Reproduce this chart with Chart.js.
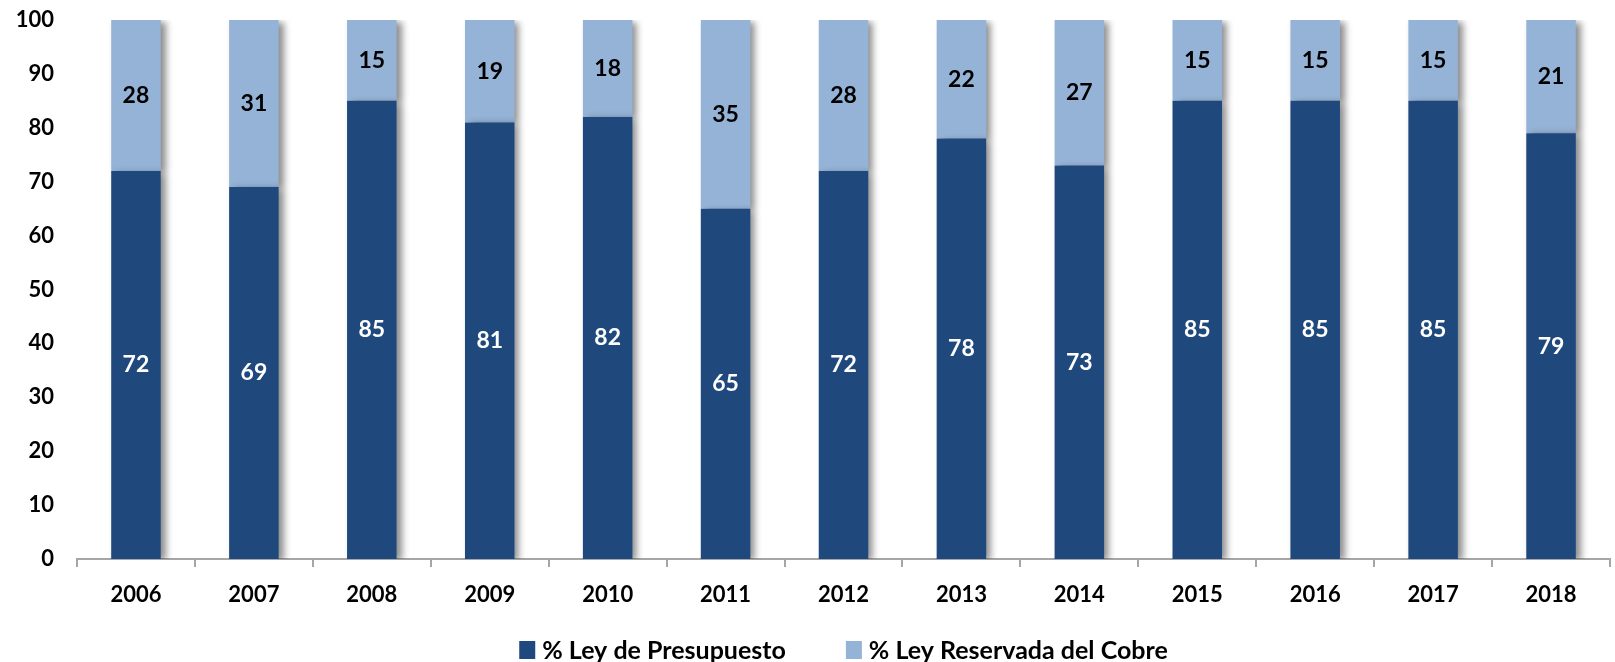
<!DOCTYPE html>
<html>
<head>
<meta charset="utf-8">
<script src="https://cdn.jsdelivr.net/npm/chart.js@4.4.1/dist/chart.umd.min.js"></script>
<style>
    html, body { margin: 0; padding: 0; background: #fff; }
    #wrap { width: 1615px; height: 662px; position: relative; }
</style>
</head>
<body>
<div id="wrap"><canvas id="chartLeyes"></canvas></div>
<script>
'use strict';

// Datos del gráfico
var anios = ['2006', '2007', '2008', '2009', '2010', '2011', '2012', '2013', '2014', '2015', '2016', '2017', '2018'];
var leyPresupuesto = [72, 69, 85, 81, 82, 65, 72, 78, 73, 85, 85, 85, 79];
var leyReservadaCobre = [28, 31, 15, 19, 18, 35, 28, 22, 27, 15, 15, 15, 21];
var ticksY = [0, 10, 20, 30, 40, 50, 60, 70, 80, 90, 100];

var COLORS = {
    dark: '#1F497D',
    light: '#95B3D7',
    axis: '#A6A6A6'
};

var FONT = 'Lato, "Open Sans", sans-serif';

// sombra gris a la derecha de cada barra
var barShadow = {
    id: 'barShadow',
    beforeDatasetsDraw: function(chart) {
        var ctx = chart.ctx;
        ctx.save();
        ctx.shadowColor = 'rgba(0,0,0,0.45)';
        ctx.shadowBlur = 7;
        ctx.shadowOffsetX = 5;
        ctx.shadowOffsetY = 2;
    },
    afterDatasetsDraw: function(chart) {
        chart.ctx.restore();
    }
};

// etiquetas de valor centradas en cada segmento
var valueLabels = {
    id: 'valueLabels',
    afterDatasetsDraw: function(chart) {
        var ctx = chart.ctx;
        ctx.save();
        ctx.font = 'bold 23px ' + FONT;
        ctx.textAlign = 'center';
        ctx.textBaseline = 'middle';
        chart.data.datasets.forEach(function(ds, i) {
            var meta = chart.getDatasetMeta(i);
            ctx.fillStyle = i === 0 ? '#FFFFFF' : '#000000';
            meta.data.forEach(function(bar, j) {
                var props = bar.getProps(['x', 'y', 'base'], true);
                var cy = (props.y + props.base) / 2;
                ctx.fillText(String(ds.data[j]), props.x, cy);
            });
        });
        ctx.restore();
    }
};

// leyenda propia, centrada bajo el área del gráfico
var bottomLegend = {
    id: 'bottomLegend',
    afterDraw: function(chart) {
        var ctx = chart.ctx;
        var area = chart.chartArea;
        var box = 16, gapText = 7, gapItem = 60;
        var y = 650;
        ctx.save();
        ctx.font = 'bold 25px ' + FONT;
        ctx.textBaseline = 'middle';
        ctx.textAlign = 'left';
        var items = chart.data.datasets.map(function(ds) {
            return { text: ds.label, color: ds.backgroundColor, w: ctx.measureText(ds.label).width };
        });
        var total = 0;
        items.forEach(function(it, k) {
            total += box + gapText + it.w + (k > 0 ? gapItem : 0);
        });
        var x = (area.left + area.right) / 2 - total / 2;
        items.forEach(function(it) {
            ctx.fillStyle = it.color;
            ctx.fillRect(x, y - 9, box, 18);
            x += box + gapText;
            ctx.fillStyle = '#000';
            ctx.fillText(it.text, x, y + 1);
            x += it.w + gapItem;
        });
        ctx.restore();
    }
};

new Chart(document.getElementById('chartLeyes'), {
    type: 'bar',
    data: {
        labels: anios,
        datasets: [
            {
                label: '% Ley de Presupuesto',
                data: leyPresupuesto,
                backgroundColor: COLORS.dark,
                barPercentage: 0.42,
                categoryPercentage: 1
            },
            {
                label: '% Ley Reservada del Cobre',
                data: leyReservadaCobre,
                backgroundColor: COLORS.light,
                barPercentage: 0.42,
                categoryPercentage: 1
            }
        ]
    },
    options: {
        responsive: true,
        maintainAspectRatio: false,
        animation: false,
        layout: { padding: { left: 0, right: 5, top: 20, bottom: 53 } },
        plugins: {
            legend: { display: false },
            tooltip: { enabled: false }
        },
        scales: {
            x: {
                stacked: true,
                border: { display: true, color: COLORS.axis, width: 2 },
                grid: {
                    display: true,
                    offset: true,
                    drawOnChartArea: false,
                    drawTicks: true,
                    tickLength: 8,
                    color: COLORS.axis,
                    lineWidth: 2
                },
                afterFit: function(axis) { axis.height = 50; },
                ticks: {
                    padding: 15,
                    color: '#000',
                    font: { family: FONT, size: 22, weight: 'bold' }
                }
            },
            y: {
                stacked: true,
                min: 0,
                max: 100,
                border: { display: false },
                grid: { display: false },
                afterBuildTicks: function(axis) {
                    axis.ticks = ticksY.map(function(v) { return { value: v }; });
                },
                afterFit: function(axis) {
                    axis.width = 77;
                    axis.paddingTop = 0;
                    axis.paddingBottom = 0;
                },
                ticks: {
                    padding: 15,
                    color: '#000',
                    font: { family: FONT, size: 22, weight: 'bold' }
                }
            }
        }
    },
    plugins: [barShadow, valueLabels, bottomLegend]
});
</script>
</body>
</html>
